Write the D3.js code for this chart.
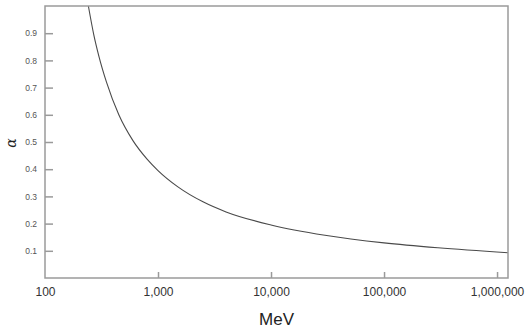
<!DOCTYPE html>
<html lang="en">
<head>
  <meta charset="UTF-8">
  <title>alpha vs MeV</title>
  <script src="https://cdn.jsdelivr.net/npm/d3@7"></script>
  <style>
    body { margin: 0; background: #fff; }
    svg { display: block; }
  </style>
</head>
<body>
<script>
  // data
  const energy = [242, 270, 300, 350, 450, 600, 800, 1000, 1500, 2500, 4000, 10000, 30000, 100000, 300000, 1250000];
  const alpha = [1.0, 0.895, 0.815, 0.72, 0.60, 0.505, 0.437, 0.395, 0.335, 0.28, 0.243, 0.195, 0.157, 0.129, 0.111, 0.093];
  const xTicks = [100, 1000, 10000, 100000, 1000000];
  const yTicks = [0.1, 0.2, 0.3, 0.4, 0.5, 0.6, 0.7, 0.8, 0.9];

  const width = 525, height = 330;
  const margin = { top: 6, right: 17, bottom: 52, left: 45 };
  const w = width - margin.left - margin.right;
  const h = height - margin.top - margin.bottom;

  const svg = d3.select("body").append("svg")
    .attr("width", width)
    .attr("height", height);
  const g = svg.append("g")
    .attr("transform", "translate(" + margin.left + "," + margin.top + ")");

  const x = d3.scaleLog().domain([100, 1250000]).range([0, w]);
  const y = d3.scaleLinear().domain([0, 1]).range([h, 0]);

  const axisColor = "#9a9a9a";

  // curve
  const line = d3.line()
    .x(d => x(d[0]))
    .y(d => y(d[1]))
    .curve(d3.curveMonotoneX);
  g.append("path")
    .datum(d3.zip(energy, alpha))
    .attr("d", line)
    .attr("fill", "none")
    .attr("stroke", "#4a4a4a")
    .attr("stroke-width", 1.1);

  // frame
  g.append("rect")
    .attr("width", w).attr("height", h)
    .attr("fill", "none")
    .attr("stroke", axisColor)
    .attr("stroke-width", 1.5);

  // y axis, ticks inward
  const yAxis = g.append("g")
    .call(d3.axisLeft(y).tickValues(yTicks).tickSize(-8).tickPadding(8).tickFormat(d3.format(".1f")));
  yAxis.select(".domain").remove();
  yAxis.selectAll(".tick line").attr("stroke", axisColor).attr("stroke-width", 1.5);
  yAxis.selectAll("text")
    .attr("font-family", "Liberation Sans, Arial, sans-serif")
    .attr("font-size", 8.5)
    .attr("fill", "#555");

  // x axis, ticks inward
  const xAxis = g.append("g")
    .attr("transform", "translate(0," + h + ")")
    .call(d3.axisBottom(x).tickValues(xTicks).tickSize(-6).tickPadding(9).tickFormat(d3.format(",")));
  xAxis.select(".domain").remove();
  xAxis.selectAll(".tick line").attr("stroke", axisColor).attr("stroke-width", 1.5);
  xAxis.selectAll(".tick").filter(d => d === 100).select("line").remove();
  xAxis.selectAll("text")
    .attr("font-family", "Liberation Sans, Arial, sans-serif")
    .attr("font-size", 12)
    .attr("fill", "#333");

  // axis titles
  svg.append("text")
    .attr("x", margin.left + w / 2)
    .attr("y", 325)
    .attr("text-anchor", "middle")
    .attr("font-family", "Liberation Sans, Arial, sans-serif")
    .attr("font-size", 17)
    .attr("fill", "#222")
    .text("MeV");

  svg.append("text")
    .attr("transform", "translate(16,143) rotate(-90)")
    .attr("text-anchor", "middle")
    .attr("font-family", "DejaVu Serif, Liberation Serif, serif")
    .attr("font-style", "italic")
    .attr("font-size", 14)
    .attr("fill", "#222")
    .text("α");
</script>
</body>
</html>
